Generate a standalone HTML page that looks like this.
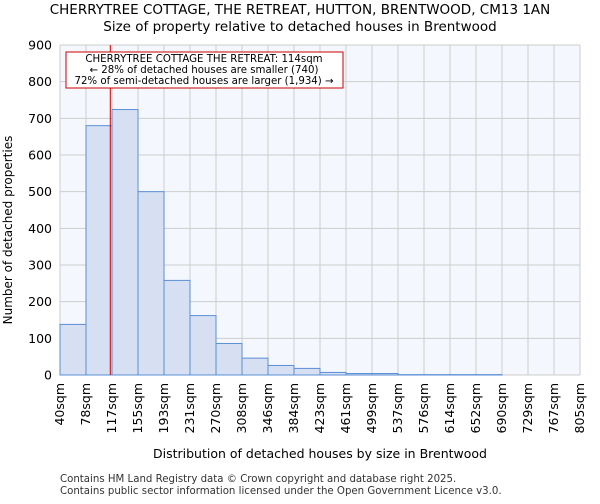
<!DOCTYPE html>
<html><head><meta charset="utf-8"><style>
body{margin:0;background:#fff;font-family:"DejaVu Sans","Liberation Sans",sans-serif}
</style></head><body>
<svg width="600" height="500" xmlns="http://www.w3.org/2000/svg" font-family="DejaVu Sans, Liberation Sans, sans-serif">
<text x="300" y="14" text-anchor="middle" font-size="13.5">CHERRYTREE COTTAGE, THE RETREAT, HUTTON, BRENTWOOD, CM13 1AN</text>
<text x="300" y="31" text-anchor="middle" font-size="13.5">Size of property relative to detached houses in Brentwood</text>
<rect x="60" y="45" width="520" height="330" fill="#f4f7fd"/>
<g id="grid"></g>
<g id="bars"></g>
<g id="axes"></g>
<line id="marker" y1="45" y2="375" stroke="#cc0000" stroke-width="1"/>
<rect x="66" y="52" width="277" height="36" fill="#fff" stroke="#cc0000"/>
<text x="204" y="62" text-anchor="middle" font-size="10.2">CHERRYTREE COTTAGE THE RETREAT: 114sqm</text>
<text x="204" y="73" text-anchor="middle" font-size="10.2">← 28% of detached houses are smaller (740)</text>
<text x="204" y="84" text-anchor="middle" font-size="10.2">72% of semi-detached houses are larger (1,934) →</text>
<text x="12" y="230" text-anchor="middle" font-size="12" transform="rotate(-90 12 230)">Number of detached properties</text>
<text x="320" y="458" text-anchor="middle" font-size="12.5">Distribution of detached houses by size in Brentwood</text>
<text x="60" y="482" font-size="10.2" fill="#333">Contains HM Land Registry data © Crown copyright and database right 2025.</text>
<text x="60" y="494" font-size="10.2" fill="#333">Contains public sector information licensed under the Open Government Licence v3.0.</text>
</svg>
<script>
const binLabels=["40sqm","78sqm","117sqm","155sqm","193sqm","231sqm","270sqm","308sqm","346sqm","384sqm","423sqm","461sqm","499sqm","537sqm","576sqm","614sqm","652sqm","690sqm","729sqm","767sqm","805sqm"];
const counts=[138,680,724,500,258,162,86,46,26,18,7,4,4,1,1,1,1,0,0,0];
const yTicks=[0,100,200,300,400,500,600,700,800,900];
const binStart=40, binWidth=38.25, propertySize=114;
const X0=60,X1=580,Y0=375,Y1=45,YMAX=900;
const nb=counts.length;
const bw=(X1-X0)/nb;
const xs=i=>X0+i*bw;
const xv=v=>X0+(v-binStart)/binWidth*bw;
const ys=v=>Y0-v/YMAX*(Y0-Y1);
const NS="http://www.w3.org/2000/svg";
function mk(t,a,p){const e=document.createElementNS(NS,t);for(const k in a)e.setAttribute(k,a[k]);p.appendChild(e);return e;}
const grid=document.getElementById('grid'),bars=document.getElementById('bars'),axes=document.getElementById('axes');
for(let i=0;i<=nb;i++){const l=mk('line',{x1:xs(i),x2:xs(i),y1:Y1,y2:Y0,stroke:'#cccccc'},grid);

}
yTicks.forEach(v=>{const l=mk('line',{x1:X0,x2:X1,y1:ys(v),y2:ys(v),stroke:'#cccccc'},grid);


const t=mk('text',{x:X0-8,y:ys(v)+4.5,'text-anchor':'end','font-size':'12.5'},axes);t.textContent=v;

});
counts.forEach((c,i)=>{if(c<=0)return;const r=mk('rect',{x:xs(i),y:ys(c),width:bw,height:Y0-ys(c),fill:'#d6e0f2',stroke:'#5b8fd6','stroke-width':1},bars);

});
binLabels.forEach((s,i)=>{const x=xs(i)+4,y=Y0+8;const t=mk('text',{x:x,y:y,'text-anchor':'end','font-size':'12.5',transform:`rotate(-90 ${x} ${y})`},axes);t.textContent=s;

});
const m=document.getElementById('marker');m.setAttribute('x1',xv(propertySize));m.setAttribute('x2',xv(propertySize));
</script>
</body></html>
